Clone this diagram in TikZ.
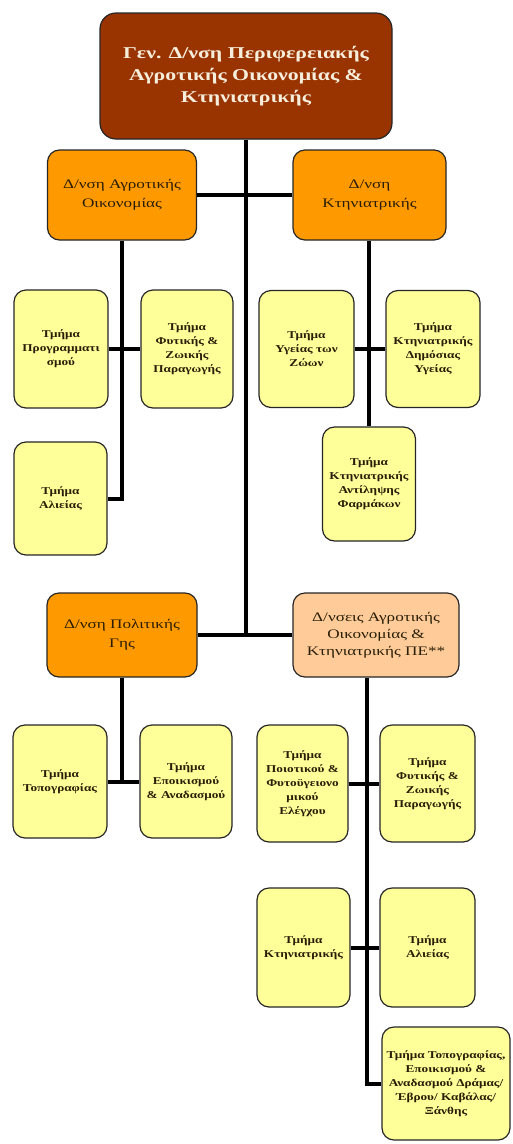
\documentclass[tikz,border=0pt]{standalone}
\usepackage{fontspec}
\setmainfont{Liberation Serif}[FakeStretch=1.32]
\newfontfamily\deptfont{Liberation Serif}[FakeStretch=1.26]
\usetikzlibrary{calc}
\definecolor{headbrown}{HTML}{993300}
\definecolor{dirorange}{HTML}{FF9900}
\definecolor{dirpeach}{HTML}{FFCC99}
\definecolor{deptyellow}{HTML}{FFFF99}
\definecolor{headtext}{HTML}{F6EEDC}
\definecolor{inktext}{HTML}{2A1E08}
\begin{document}
\begin{tikzpicture}[x=1pt,y=1pt,
  boxbase/.style={draw=black!85, line width=1.2pt, rounded corners=12pt,
    inner sep=0pt, align=center, text=inktext},
  headbox/.style={boxbase, fill=headbrown, text=headtext, rounded corners=16pt,
    font=\fontsize{16.5}{22}\selectfont\bfseries},
  dirbox/.style={boxbase, fill=dirorange, font=\fontsize{13}{19}\selectfont},
  pebox/.style={boxbase, fill=dirpeach, font=\fontsize{13}{17}\selectfont},
  deptbox/.style={boxbase, fill=deptyellow,
    font=\deptfont\fontsize{10.5}{14}\selectfont\bfseries},
  link/.style={line width=4pt, draw=black}]
\useasboundingbox (0,0) rectangle (512,-1144);

% head of the general directorate
\node[headbox, minimum width=292, minimum height=126] (head) at (246,-76)
  {Γεν. Δ/νση Περιφερειακής\\Αγροτικής Οικονομίας \&\\Κτηνιατρικής};

% directorates
\node[dirbox, minimum width=149, minimum height=90] (agr) at (122,-195)
  {Δ/νση Αγροτικής\\Οικονομίας};
\node[dirbox, minimum width=153, minimum height=90] (ktin) at (369.5,-195)
  {Δ/νση\\Κτηνιατρικής};
\node[dirbox, minimum width=150, minimum height=84] (pol) at (122,-635)
  {Δ/νση Πολιτικής\\Γης};
\node[pebox, minimum width=166, minimum height=84] (pe) at (376,-635)
  {Δ/νσεις Αγροτικής\\Οικονομίας \&\\Κτηνιατρικής ΠΕ**};

% departments of agricultural economy
\node[deptbox, minimum width=94, minimum height=118] (prog) at (61,-349)
  {Τμήμα\\Προγραμματι\\σμού};
\node[deptbox, minimum width=92, minimum height=118] (fyt1) at (187,-349)
  {Τμήμα\\Φυτικής \&\\Ζωικής\\Παραγωγής};
\node[deptbox, minimum width=93, minimum height=113] (ali1) at (60.5,-498.5)
  {Τμήμα\\Αλιείας};

% departments of veterinary
\node[deptbox, minimum width=95, minimum height=117] (ygz) at (306.5,-349)
  {Τμήμα\\Υγείας των\\Ζώων};
\node[deptbox, minimum width=94, minimum height=117] (dim) at (433,-349)
  {Τμήμα\\Κτηνιατρικής\\Δημόσιας\\Υγείας};
\node[deptbox, minimum width=93, minimum height=114] (ant) at (369,-484)
  {Τμήμα\\Κτηνιατρικής\\Αντίληψης\\Φαρμάκων};

% departments of land policy
\node[deptbox, minimum width=94, minimum height=113] (topo) at (60,-781.5)
  {Τμήμα\\Τοπογραφίας};
\node[deptbox, minimum width=92, minimum height=113] (epo) at (186,-781.5)
  {Τμήμα\\Εποικισμού\\\& Αναδασμού};

% departments of the regional units
\node[deptbox, minimum width=91, minimum height=117] (poi) at (302.5,-783.5)
  {Τμήμα\\Ποιοτικού \&\\Φυτοϋγειονο\\μικού\\Ελέγχου};
\node[deptbox, minimum width=95, minimum height=117] (fyt2) at (427.5,-783.5)
  {Τμήμα\\Φυτικής \&\\Ζωικής\\Παραγωγής};
\node[deptbox, minimum width=93, minimum height=119] (ktn2) at (303.5,-947.5)
  {Τμήμα\\Κτηνιατρικής};
\node[deptbox, minimum width=95, minimum height=119] (ali2) at (427.5,-947.5)
  {Τμήμα\\Αλιείας};
\node[deptbox, minimum width=128, minimum height=113] (last) at (446,-1083.5)
  {Τμήμα Τοπογραφίας,\\Εποικισμού \&\\Αναδασμού Δράμας/\\Έβρου/ Καβάλας/\\Ξάνθης};

\coordinate (pecol) at (367,0);

% trunk and directorate links
\draw[link] (head.south) -- (head.south |- pol.east);
\draw[link] (agr.east) -- (ktin.west);
\draw[link] (pol.east) -- (pe.west);
% agricultural economy column
\draw[link] (agr.south) |- (ali1.east);
\draw[link] (prog.east) -- (fyt1.west);
% veterinary column
\draw[link] (ktin.south -| ant.north) -- (ant.north);
\draw[link] (ygz.east) -- (dim.west);
% land policy column
\draw[link] (pol.south) -- (pol.south |- topo.east);
\draw[link] (topo.east) -- (epo.west);
% regional units column
\draw[link] (pe.south -| pecol) |- (last.west);
\draw[link] (poi.east) -- (fyt2.west);
\draw[link] (ktn2.east) -- (ali2.west);
\end{tikzpicture}
\end{document}
